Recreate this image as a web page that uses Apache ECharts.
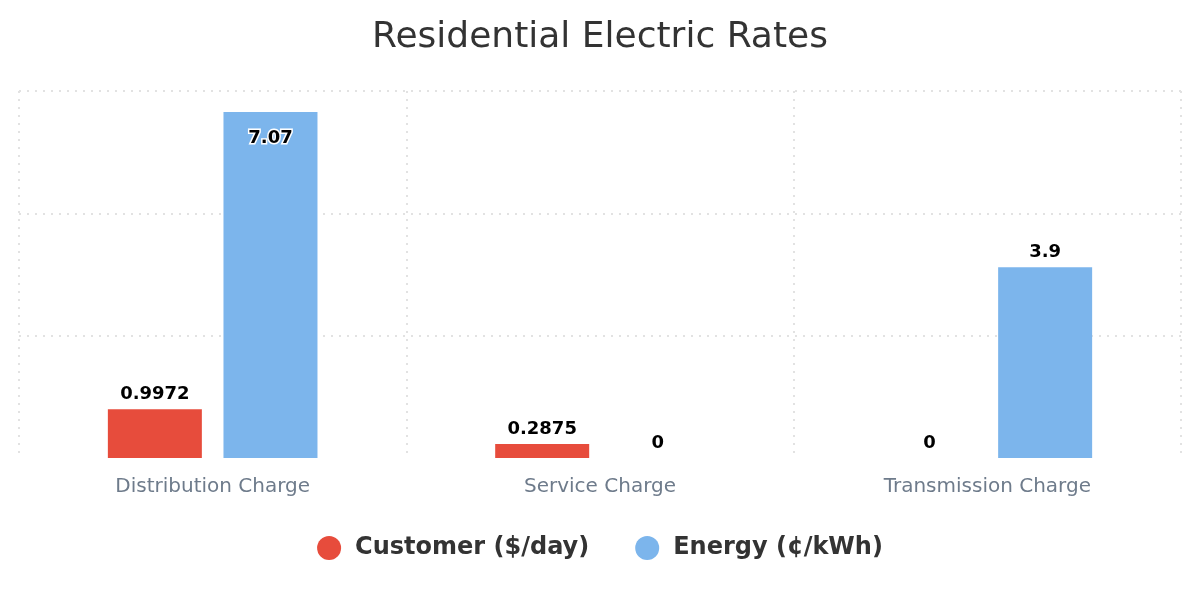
<!DOCTYPE html>
<html><head><meta charset="utf-8">
<script src="https://cdn.jsdelivr.net/npm/echarts@6/dist/echarts.min.js"></script>
<style>html,body{margin:0;padding:0;background:#fff}#c{width:1200px;height:600px}</style>
</head><body><div id="c"></div>
<script>
const categories = ['Distribution Charge', 'Service Charge', 'Transmission Charge'];
const customerValues = [0.9972, 0.2875, 0];
const energyValues = [7.07, 0, 3.9];
const seriesNames = ['Customer ($/day)', 'Energy (¢/kWh)'];
const yTicks = { min: 0, max: 7.5, interval: 2.5 };

const FONT = "'DejaVu Sans', sans-serif";
const labelBase = { show: true, position: 'top', distance: 6, color: '#000', fontWeight: 'bold', fontSize: 18, fontFamily: FONT };

function energyData() {
  return energyValues.map(v => {
    if (v > 7) {
      return { value: v, label: { position: 'insideTop', distance: 17, textBorderColor: '#fff', textBorderWidth: 3 } };
    }
    return v;
  });
}

const gridLine = { type: [2, 6], color: '#e2e2e2', width: 2 };

const chart = echarts.init(document.getElementById('c'));
chart.setOption({
  animation: false,
  title: { text: 'Residential Electric Rates', left: 'center', top: 15, textStyle: { fontFamily: FONT, fontSize: 36, fontWeight: 'normal', color: '#333' } },
  legend: {
    bottom: 35, left: 'center', icon: 'circle', itemWidth: 24, itemHeight: 24, itemGap: 46,
    textStyle: { fontFamily: FONT, fontSize: 24, fontWeight: 'bold', color: '#333', padding: [0, 0, 0, 9] },
    data: seriesNames
  },
  grid: { left: 19, right: 19, top: 91, bottom: 142, containLabel: false },
  xAxis: {
    type: 'category', data: categories,
    axisLine: { show: false }, axisTick: { show: false },
    axisLabel: { fontFamily: FONT, fontSize: 20, color: '#6e7b8b', margin: 19 },
    splitLine: { show: true, lineStyle: gridLine }
  },
  yAxis: {
    type: 'value', min: yTicks.min, max: yTicks.max, interval: yTicks.interval,
    axisLabel: { show: false }, axisLine: { show: false }, axisTick: { show: false },
    splitLine: { show: true, lineStyle: Object.assign({}, gridLine, { color: ['transparent', '#e2e2e2', '#e2e2e2', '#e2e2e2'] }) }
  },
  series: [
    { name: seriesNames[0], type: 'bar', data: customerValues, barWidth: 94, barGap: '23%', itemStyle: { color: '#e74c3c' }, label: labelBase },
    { name: seriesNames[1], type: 'bar', data: energyData(), barWidth: 94, itemStyle: { color: '#7cb5ec' }, label: labelBase }
  ]
});
</script></body></html>
